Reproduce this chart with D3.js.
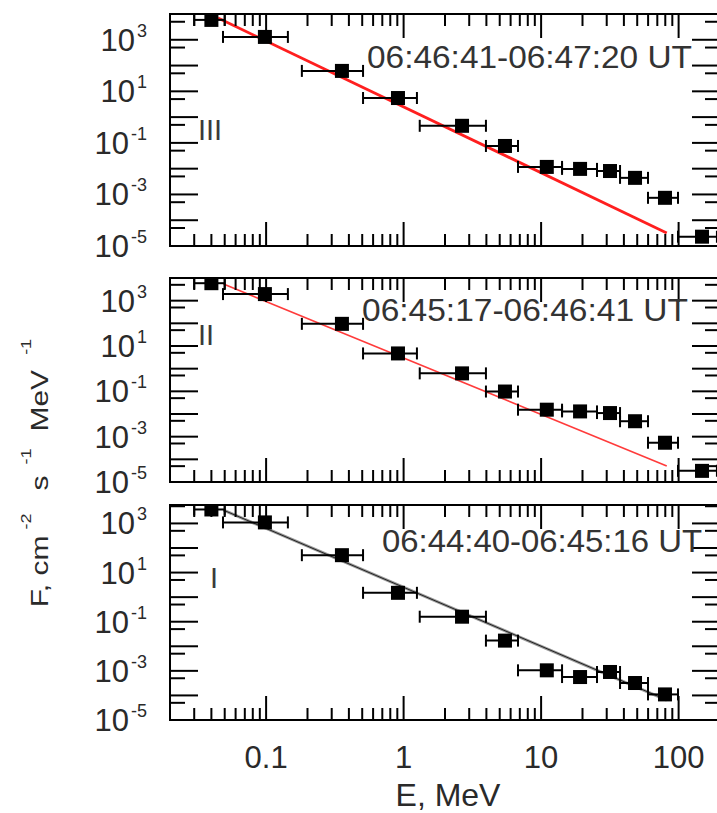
<!DOCTYPE html>
<html><head><meta charset="utf-8">
<script src="https://cdn.jsdelivr.net/npm/d3@7"></script>
<style>body{margin:0;background:#fff} svg{display:block} text{font-family:"Liberation Sans",Arial,sans-serif}</style>
</head><body>
<script>
// ---- data ----
const energy   = [0.040, 0.098, 0.356, 0.91, 2.66, 5.46, 11.0, 19.2, 31.7, 48.2, 79.6, 148];
const energyLo = [0.030, 0.0486, 0.182, 0.507, 1.31, 3.97, 6.79, 14.2, 25.5, 37.5, 59.9, 99];
const energyHi = [0.050, 0.144, 0.507, 1.25, 3.97, 6.79, 14.2, 25.5, 37.5, 59.9, 99, 190];
const fluxIII = [5900, 1290, 62, 5.5, 0.46, 0.076, 0.0117, 0.0098, 0.0081, 0.0044, 7.4e-4, 2.3e-5];
const fluxII  = [5900, 1950, 95, 4.7, 0.62, 0.098, 0.0155, 0.013, 0.011, 0.0048, 5.4e-4, 3.1e-5];
const fluxI   = [3700, 1100, 51, 1.5, 0.16, 0.017, 1.05e-3, 5.6e-4, 9.0e-4, 3.2e-4, 1.1e-4];
const fitE_III = [0.0447, 82], fitF_III = [7000, 3.2e-5];
const fitE_II  = [0.049, 82],  fitF_II  = [5400, 5.1e-5];
const fitE_I   = [0.049, 82],  fitF_I   = [3470, 6.5e-5];
const timeLabels  = ["06:46:41-06:47:20 UT", "06:45:17-06:46:41 UT", "06:44:40-06:45:16 UT"];
const panelLabels = ["III", "II", "I"];
const xTickValues = [0.1, 1, 10, 100];
const xTickLabels = ["0.1", "1", "10", "100"];
const yTickExponents = [3, 1, -1, -3, -5];

// ---- layout ----
const W = 717, H = 813;
const svg = d3.select("body").append("svg").attr("width", W).attr("height", H);
const x = d3.scaleLog().domain([0.02, 200]).range([170, 720]);

const panels = [
  {flux: fluxIII, fitE: fitE_III, fitF: fitF_III, top: 14, bottom: 246, yMax: 1e4,
   time: timeLabels[0], timeX: 367, timeY: 68, timeLen: 325, roman: panelLabels[0], romanX: 198, romanY: 140,
   lines: [{c: "#ff1f1f", w: 2.8}]},
  {flux: fluxII, fitE: fitE_II, fitF: fitF_II, top: 278, bottom: 482, yMax: 1e4,
   time: timeLabels[1], timeX: 362, timeY: 321, timeLen: 326, roman: panelLabels[1], romanX: 198, romanY: 345,
   lines: [{c: "#ff3b3b", w: 1.7}]},
  {flux: fluxI, fitE: fitE_I, fitF: fitF_I, top: 505, bottom: 720, yMax: Math.pow(10, 3.75),
   time: timeLabels[2], timeX: 382, timeY: 552, timeLen: 320, roman: panelLabels[2], romanX: 210, romanY: 588,
   lines: [{c: "#999", w: 3}, {c: "#222", w: 1}]}
];

panels.forEach((p, pi) => {
  const y = d3.scaleLog().domain([1e-5, p.yMax]).range([p.bottom, p.top]);
  const g = svg.append("g");
  const clipId = "clip" + pi;
  svg.append("clipPath").attr("id", clipId).append("rect")
    .attr("x", 170).attr("y", p.top).attr("width", 550).attr("height", p.bottom - p.top);
  const data = g.append("g").attr("clip-path", `url(#${clipId})`);

  // fit line(s)
  const fitPts = p.fitE.map((e, i) => [x(e), y(p.fitF[i])]);
  p.lines.forEach(l => {
    data.append("path").attr("d", d3.line()(fitPts)).attr("stroke", l.c)
      .attr("stroke-width", l.w).attr("fill", "none");
  });

  // error bars + squares
  p.flux.forEach((f, i) => {
    const cy = y(f);
    data.append("line").attr("x1", x(energyLo[i])).attr("x2", x(energyHi[i]))
      .attr("y1", cy).attr("y2", cy).attr("stroke", "#000").attr("stroke-width", 2);
    [energyLo[i], energyHi[i]].forEach(e => {
      data.append("line").attr("x1", x(e)).attr("x2", x(e)).attr("y1", cy - 6).attr("y2", cy + 6)
        .attr("stroke", "#000").attr("stroke-width", 2);
    });
    data.append("rect").attr("x", x(energy[i]) - 7).attr("y", cy - 7)
      .attr("width", 14).attr("height", 14).attr("fill", "#000");
  });

  // ticks
  const xMajor = [0.1, 1, 10, 100];
  const xMinor = [];
  [0.01, 0.1, 1, 10, 100].forEach(d => { for (let j = 2; j <= 9; j++) { const v = d * j; if (v >= 0.02 && v <= 200) xMinor.push(v); } });
  const tk = (x1, y1, x2, y2) => g.append("line").attr("x1", x1).attr("y1", y1).attr("x2", x2).attr("y2", y2)
      .attr("stroke", "#000").attr("stroke-width", 2);
  xMajor.forEach(v => { tk(x(v), p.bottom, x(v), p.bottom - 24); tk(x(v), p.top, x(v), p.top + 24); });
  xMinor.forEach(v => { tk(x(v), p.bottom, x(v), p.bottom - 12); tk(x(v), p.top, x(v), p.top + 12); });
  for (let k = -5; k <= 4; k++) {
    const v = Math.pow(10, k);
    if (v <= p.yMax * 1.0001) { tk(170, y(v), 198, y(v)); tk(720, y(v), 692, y(v)); }
    const m = 5 * Math.pow(10, k);
    if (m <= p.yMax && m >= 1e-5) { tk(170, y(m), 185, y(m)); tk(720, y(m), 705, y(m)); }
  }
  // frame
  g.append("rect").attr("x", 170).attr("y", p.top).attr("width", 550).attr("height", p.bottom - p.top)
    .attr("fill", "none").attr("stroke", "#000").attr("stroke-width", 2);

  // y tick labels
  yTickExponents.forEach(e => {
    const t = g.append("text").attr("x", 147).attr("y", y(Math.pow(10, e)) + 11)
      .attr("text-anchor", "end").attr("font-size", 31).attr("fill", "#2a2a2a");
    t.append("tspan").text("10");
    t.append("tspan").attr("font-size", 18).attr("dx", 2).attr("dy", -14).text(String(e));
  });

  // time label
  g.append("text").attr("x", p.timeX).attr("y", p.timeY).attr("font-size", 32).attr("fill", "#333")
    .attr("textLength", p.timeLen).attr("lengthAdjust", "spacingAndGlyphs").text(p.time);
  // roman numeral
  g.append("text").attr("x", p.romanX).attr("y", p.romanY).attr("font-size", 29).attr("fill", "#3a3a3a").text(p.roman);

  // x tick labels only bottom panel
  if (pi === panels.length - 1) {
    xTickValues.forEach((v, i) => {
      g.append("text").attr("x", x(v)).attr("y", 768).attr("text-anchor", "middle")
        .attr("font-size", 31).attr("fill", "#2a2a2a").text(xTickLabels[i]);
    });
  }
});

// axis titles
svg.append("text").attr("x", 448).attr("y", 806).attr("text-anchor", "middle")
  .attr("font-size", 32).attr("fill", "#2a2a2a").text("E, MeV");

const yt = svg.append("text").attr("transform", "translate(48,473) rotate(-90) scale(1,0.78)")
  .attr("text-anchor", "middle").attr("font-size", 30).attr("fill", "#2a2a2a");
yt.append("tspan").text("F, cm");
yt.append("tspan").attr("font-size", 18).attr("dx", 6).attr("dy", -22).text("-2");
yt.append("tspan").attr("dx", 23).attr("dy", 22).text("s");
yt.append("tspan").attr("font-size", 18).attr("dx", 11).attr("dy", -22).text("-1");
yt.append("tspan").attr("dx", 17).attr("dy", 22).text("MeV");
yt.append("tspan").attr("font-size", 18).attr("dx", 15).attr("dy", -22).text("-1");
</script>
</body></html>
